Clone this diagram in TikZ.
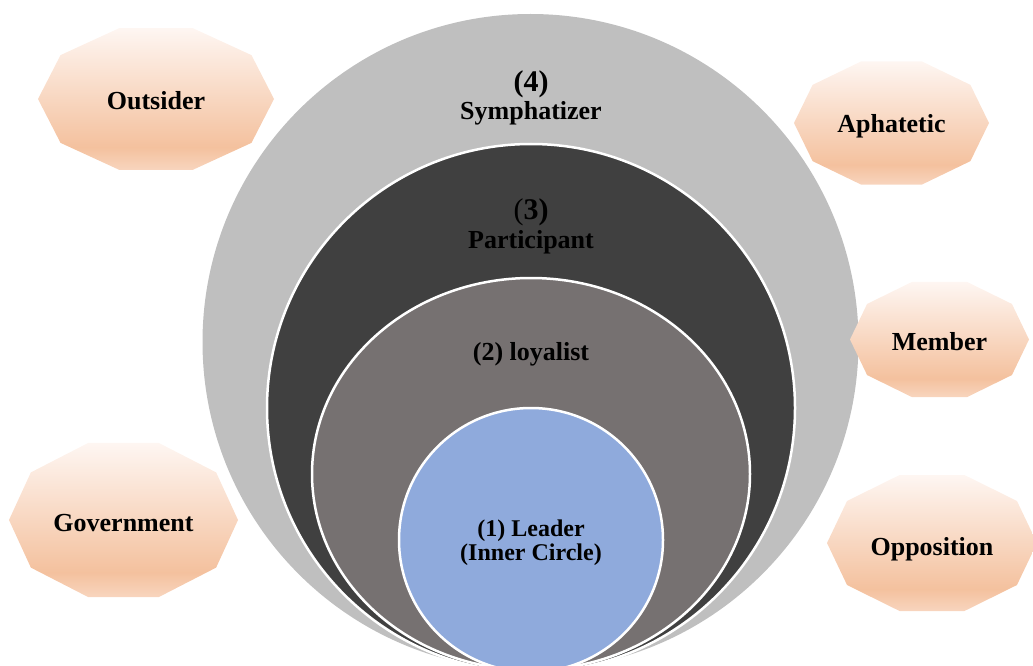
\documentclass[tikz,border=0pt]{standalone}
\usepackage{fontspec}
\setmainfont{Liberation Serif}
\usetikzlibrary{shapes.geometric}
\definecolor{ringfour}{HTML}{BFBFBF}
\definecolor{ringthree}{HTML}{404040}
\definecolor{ringtwo}{HTML}{767171}
\definecolor{ringone}{HTML}{8FAADC}
\definecolor{pkA}{HTML}{FEF6F2}
\definecolor{pkB}{HTML}{F4C19E}
\definecolor{pkC}{HTML}{F8D5BE}
\pgfdeclareverticalshading{peach}{100bp}{color(0bp)=(pkC); color(25bp)=(pkC); color(33bp)=(pkB); color(75bp)=(pkA); color(100bp)=(pkA)}
\tikzset{
  ringlabel/.style={font=\bfseries\fontsize{26}{30}\selectfont, text=black, inner sep=0pt, anchor=base},
  boxlabel/.style={font=\bfseries\fontsize{26}{30}\selectfont, text=black, inner sep=0pt, anchor=base},
  ringline/.style={draw=white, line width=2.5pt, inner sep=0pt, outer sep=0pt},
  decafill/.style={shading=peach, draw=none},
}
% name, cx, cy, half width, radius y, baseline y, text
\newcommand\decagonbox[7]{%
  \begin{scope}[shift={(#2,#3)}, xscale=#4, yscale=#5]
    \path[decafill] (0:1) -- (36:1) -- (72:1) -- (108:1) -- (144:1) -- (180:1)
      -- (216:1) -- (252:1) -- (288:1) -- (324:1) -- cycle;
  \end{scope}
  \node[boxlabel] (#1) at (#2,#6) {#7};
}
\begin{document}
\begin{tikzpicture}[x=1pt, y=-1pt]
\path[use as bounding box] (0,0) rectangle (1033,666);
\clip (0,0) rectangle (1033,666);
% nested rings
\node[circle, fill=ringfour, inner sep=0pt, minimum size=656pt] (c4) at (530.5,342) {};
\node[circle, fill=ringthree, ringline, minimum size=528pt] (c3) at (531,408) {};
\node[ellipse, fill=ringtwo, ringline, minimum width=438pt, minimum height=392pt] (c2) at (531,474) {};
\node[circle, fill=ringone, ringline, minimum size=264pt] (c1) at (531,540) {};
% ring labels
\node[ringlabel, font=\bfseries\fontsize{30}{34}\selectfont] (l4a) at (531,91.7) {(4)};
\node[ringlabel] (l4b) at (531,120) {Symphatizer};
\node[ringlabel, font=\bfseries\fontsize{30}{34}\selectfont] (l3a) at (531,219) {{\mdseries(}3)};
\node[ringlabel] (l3b) at (531,248) {Participant};
\node[ringlabel] (l2) at (531,360) {(2) loyalist};
\node[ringlabel, font=\bfseries\fontsize{24}{28}\selectfont] (l1a) at (531,536) {(1) Leader};
\node[ringlabel, font=\bfseries\fontsize{24}{28}\selectfont] (l1b) at (531,560) {(Inner Circle)};
% outer groups
\decagonbox{outsider}{156}{99}{118}{74.65}{110}{Outsider}
\decagonbox{aphatetic}{891.5}{123}{97.5}{64.9}{133}{Aphatetic}
\decagonbox{member}{939.5}{339.5}{89.5}{60.5}{350}{Member}
\decagonbox{government}{123.5}{520}{114.5}{81}{531}{Government}
\decagonbox{opposition}{932}{543}{105}{71.5}{555}{Opposition}
\end{tikzpicture}
\end{document}
